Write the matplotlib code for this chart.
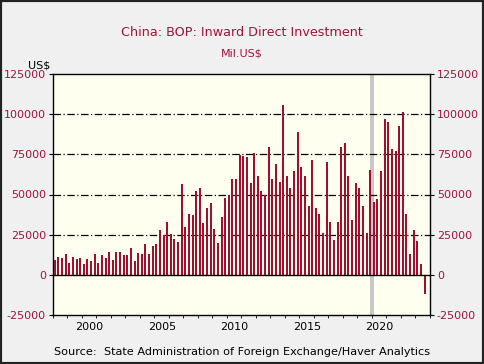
import matplotlib
matplotlib.use("Agg")
import matplotlib.pyplot as plt
import matplotlib.patches as mpatches
import numpy as np

# ── Colours ───────────────────────────────────────────────────────────────────
CRIMSON   = "#a3123a"
BAR       = "#a00f30"
PANEL     = "#f0f0f0"
PLOT_BG   = "#fffff0"
RECESSION = "#c8c8c8"

# ── Data: quarterly, 1998Q1 – 2023Q3, Mil.US$ ─────────────────────────────────
start_year = 1998
fdi = [
    9200, 11200, 10700, 13200,     # 1998
    7500, 11200, 10100, 10600,     # 1999
    7000, 10100, 8800, 13200,      # 2000
    7500, 12300, 10600, 14400,     # 2001
    9300, 14000, 14300, 12500,     # 2002
    12500, 16400, 8900, 13500,     # 2003
    12900, 18900, 12900, 17700,    # 2004
    18900, 27900, 25000, 32700,    # 2005
    25400, 22300, 20700, 56300,    # 2006
    30000, 37900, 37400, 52100,    # 2007
    54000, 32400, 41400, 44400,    # 2008
    28700, 20000, 36300, 47800,    # 2009
    49900, 59800, 59400, 74800,    # 2010
    73900, 73100, 57200, 75800,    # 2011
    61400, 51900, 49800, 79400,    # 2012
    59700, 68800, 57800, 105500,   # 2013
    61400, 54000, 64600, 89000,    # 2014
    67400, 61400, 42600, 71600,    # 2015
    41700, 37700, 25800, 70100,    # 2016
    33000, 21400, 32800, 79400,    # 2017
    82000, 61400, 34300, 57400,    # 2018
    54000, 42600, 25800, 65300,    # 2019
    45100, 47500, 64600, 97000,    # 2020
    95300, 78600, 77300, 92800,    # 2021
    101300, 37900, 13100, 27800,   # 2022
    20800, 7000, -12100,           # 2023
]
recession = (2019.87, 2020.12)
year_labels = [2000, 2005, 2010, 2015, 2020]
y_ticks = [-25000, 0, 25000, 50000, 75000, 100000, 125000]

# quarter centres in fractional years
x = start_year + np.arange(len(fdi)) / 4 + 0.125

# ── Figure ────────────────────────────────────────────────────────────────────
fig = plt.figure(figsize=(4.84, 3.64), dpi=100, facecolor=PANEL)
ax = fig.add_axes([53 / 484, 1 - 315 / 364, 377 / 484, 241 / 364])
ax.set_facecolor(PLOT_BG)

ax.axvspan(*recession, color=RECESSION, lw=0, zorder=1)
for v in y_ticks[2:-1]:
    ax.axhline(v, color="black", lw=0.9, ls=(0, (6, 2, 1, 2)), zorder=2)
ax.axhline(0, color="black", lw=1.0, zorder=4)

ax.bar(x, fdi, width=0.13, color=BAR, lw=0, zorder=3)

ax.set_xlim(1998, 2024)
ax.set_ylim(-25000, 125000)

# x axis: labels at mid-year, small ticks at year boundaries
ax.set_xticks([y + 0.5 for y in year_labels])
ax.set_xticklabels([str(y) for y in year_labels], fontsize=8, color="black")
ax.set_xticks(np.arange(1998, 2025), minor=True)
ax.tick_params(axis="x", which="major", length=0, pad=5)
ax.tick_params(axis="x", which="minor", length=2, direction="out", color="black")

ax.set_yticks(y_ticks)
ax.set_yticklabels([str(v) for v in y_ticks], fontsize=8, color=CRIMSON)
ax.tick_params(axis="y", which="major", length=3, direction="out", pad=2,
               left=True, right=True, labelleft=True, labelright=True)

for s in ax.spines.values():
    s.set_color("black")
    s.set_linewidth(1.0)

# ── Text ──────────────────────────────────────────────────────────────────────
fig.text(0.5, 1 - 32 / 364, "China: BOP: Inward Direct Investment",
         ha="center", va="center", fontsize=9.2, color=CRIMSON)
fig.text(0.5, 1 - 54 / 364, "Mil.US$", ha="center", va="center",
         fontsize=8, color=CRIMSON)
fig.text(50 / 484, 1 - 65 / 364, "US$", ha="right", va="center",
         fontsize=8, color="black")
fig.text(0.5, 1 - 352 / 364,
         "Source:  State Administration of Foreign Exchange/Haver Analytics",
         ha="center", va="center", fontsize=8.1, color="black")

# outer frame
fig.patches.append(mpatches.Rectangle((0, 0), 1, 1, transform=fig.transFigure,
                                      fill=False, edgecolor="#222222", lw=3))

fig.savefig("out.png", dpi=100, facecolor=PANEL)
